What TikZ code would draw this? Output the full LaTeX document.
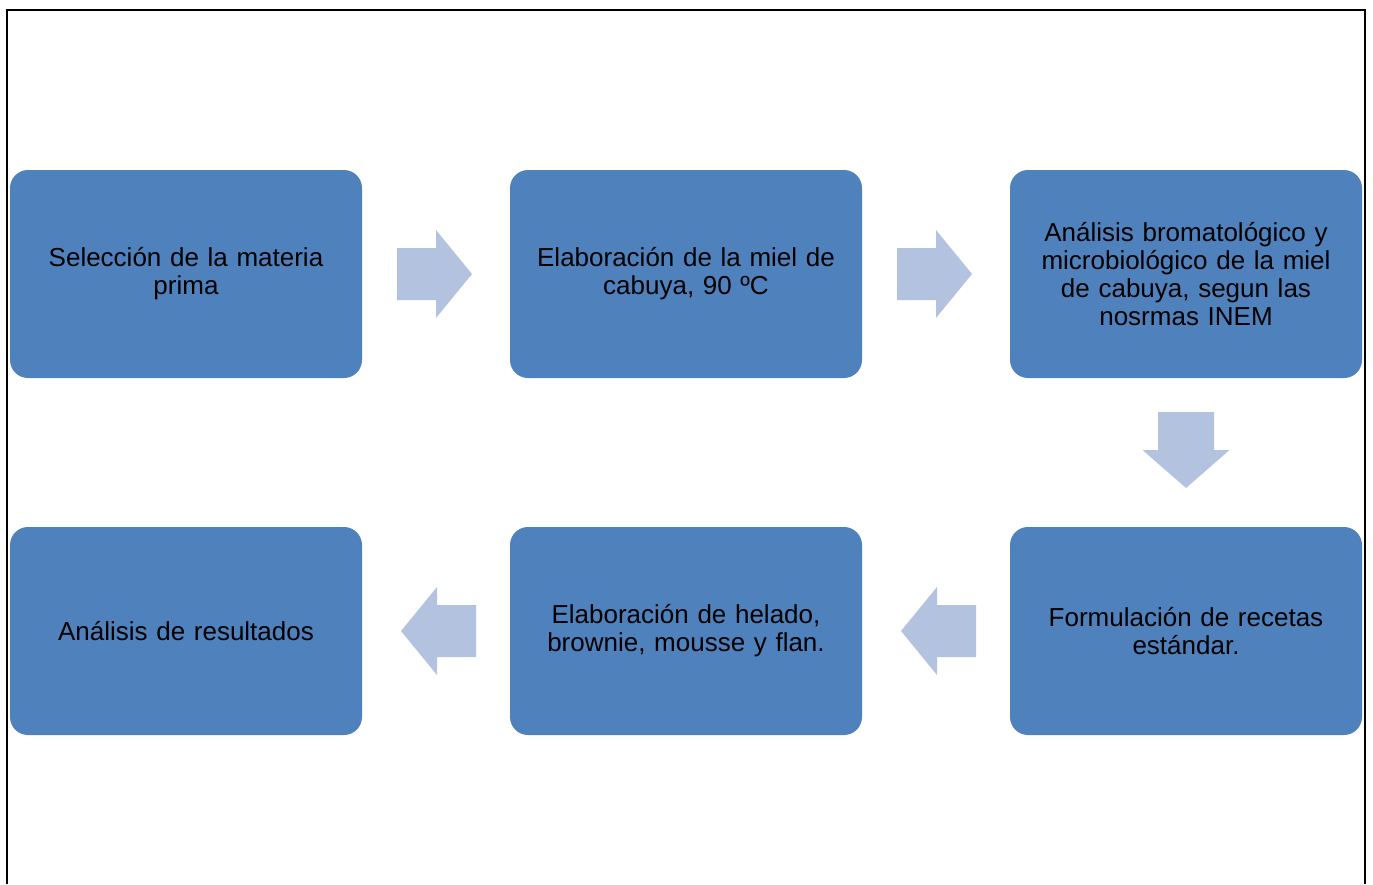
\documentclass[tikz,border=0pt]{standalone}
\usepackage{fontspec}
\setmainfont{Liberation Sans}
\usetikzlibrary{calc}
\definecolor{boxblue}{RGB}{79,129,189}
\definecolor{arrowblue}{RGB}{179,195,223}
\tikzset{
  stepbox/.style={fill=boxblue, draw=none, rounded corners=18pt,
    minimum width=352pt, minimum height=208pt, text width=340pt,
    align=center, inner sep=0pt,
    font=\fontsize{26}{28}\selectfont},
  flowarrow/.style={fill=arrowblue, draw=none},
  frame/.style={draw=black, line width=2pt}
}
\begin{document}
\begin{tikzpicture}[x=1pt, y=-1pt]
  \useasboundingbox (0,0) rectangle (1373,884);
  % open frame around the flow
  \draw[frame] (7,884) -- (7,10) -- (1365,10) -- (1365,884);

  % process steps
  \node[stepbox] (s1) at (186,274) {Selección de la materia\\prima};
  \node[stepbox] (s2) at (686,274) {Elaboración de la miel de\\cabuya, 90 ºC};
  \node[stepbox] (s3) at (1186,274) {Análisis bromatológico y\\microbiológico de la miel\\de cabuya, segun las\\nosrmas INEM};
  \node[stepbox] (s4) at (1186,631) {Formulación de recetas\\estándar.};
  \node[stepbox] (s5) at (686,631) {Elaboración de helado,\\brownie, mousse y flan.};
  \node[stepbox] (s6) at (186,631) {Análisis de resultados};

  % block arrows between the steps
  \coordinate (m12) at ($(s1.east)!0.5!(s2.west)+(-1.5,0)$);
  \coordinate (m23) at ($(s2.east)!0.5!(s3.west)+(-1.5,0)$);
  \coordinate (m34) at ($(s3.south)!0.5!(s4.north)+(0,-2.5)$);
  \coordinate (m45) at ($(s4.west)!0.5!(s5.east)+(2.5,0)$);
  \coordinate (m56) at ($(s5.west)!0.5!(s6.east)+(2.5,0)$);

  \foreach \m in {m12,m23}{
    \fill[flowarrow, shift={(\m)}]
      (-37.5,-26) -- (1.5,-26) -- (1.5,-44) -- (37.5,0) -- (1.5,44)
      -- (1.5,26) -- (-37.5,26) -- cycle;
  }
  \foreach \m in {m45,m56}{
    \fill[flowarrow, shift={(\m)}]
      (37.5,-26) -- (-1.5,-26) -- (-1.5,-44) -- (-37.5,0) -- (-1.5,44)
      -- (-1.5,26) -- (37.5,26) -- cycle;
  }
  \fill[flowarrow, shift={(m34)}]
    (-28,-38) -- (28,-38) -- (28,0) -- (43.5,0) -- (0,38) -- (-43.5,0)
    -- (-28,0) -- cycle;
\end{tikzpicture}
\end{document}
